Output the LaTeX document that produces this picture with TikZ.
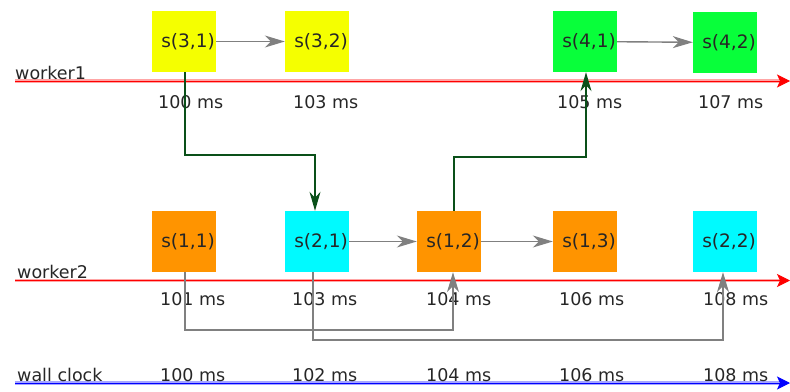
\documentclass[tikz,border=0pt]{standalone}
\usepackage{fontspec}
\setmainfont{DejaVu Sans}
\usetikzlibrary{arrows.meta}
\definecolor{cyel}{RGB}{245,255,0}
\definecolor{cgrn}{RGB}{8,255,58}
\definecolor{corg}{RGB}{255,148,0}
\definecolor{ccya}{RGB}{0,250,255}
\definecolor{dgrn}{RGB}{10,80,25}
\definecolor{txt}{RGB}{38,38,38}
\tikzset{
  task/.style={rectangle, minimum width=64pt, minimum height=61pt, inner sep=0pt, text=txt, font=\fontsize{18.5}{20}\selectfont},
  lbl/.style={anchor=base west, inner sep=0pt, text=txt, font=\fontsize{17.5}{20}\selectfont},
  dep/.style={draw=gray, line width=1.4pt, -{Stealth[length=20pt,width=12pt,inset=6pt]}},
  xdep/.style={draw=dgrn, line width=1.1pt, -{Stealth[length=19pt,width=11pt,inset=6pt]}},
  halo/.style={line width=3.5pt, draw=#1!35},
  axis/.style={line width=1pt, draw=#1, -{Stealth[length=13pt,width=13pt,inset=3pt]}},
}
\newcommand{\tasktext}[1]{\hspace*{8pt}\raisebox{-1.5pt}{#1}}
\begin{document}
\begin{tikzpicture}[x=1pt,y=-1pt]
\useasboundingbox (0,0) rectangle (790,391);
% axes
\coordinate (w1s) at (15,81); \coordinate (w1e) at (790,81);
\coordinate (w2s) at (15,280.5); \coordinate (w2e) at (790,280.5);
\coordinate (wcs) at (15,383); \coordinate (wce) at (790,383);
\draw[halo=red] (w1s) -- ([xshift=-8pt]w1e);
\draw[axis=red] (w1s) -- (w1e);
\draw[halo=red] (w2s) -- ([xshift=-8pt]w2e);
\draw[axis=red] (w2s) -- (w2e);
\draw[halo=blue] (wcs) -- ([xshift=-8pt]wce);
\draw[axis=blue] (wcs) -- (wce);
\node[lbl] (lw1) at (15,79) {worker1};
\node[lbl] (lw2) at (17,278.5) {worker2};
\node[lbl] (lwc) at (17,381) {wall clock};
% tasks
\node[task, fill=cyel] (s31) at (184,41.5) {\tasktext{s(3,1)}};
\node[task, fill=cyel] (s32) at (317,41.5) {\tasktext{s(3,2)}};
\node[task, fill=cgrn] (s41) at (585,41.5) {\tasktext{s(4,1)}};
\node[task, fill=cgrn] (s42) at (725,42.5) {\tasktext{s(4,2)}};
\node[task, fill=corg] (s11) at (184,241.5) {\tasktext{s(1,1)}};
\node[task, fill=ccya] (s21) at (317,241.5) {\tasktext{s(2,1)}};
\node[task, fill=corg] (s12) at (449,241.5) {\tasktext{s(1,2)}};
\node[task, fill=corg] (s13) at (585,241.5) {\tasktext{s(1,3)}};
\node[task, fill=ccya] (s22) at (725,241.5) {\tasktext{s(2,2)}};
% times
\node[lbl] (t1a) at (158,108.5) {100 ms};
\node[lbl] (t1b) at (293,108.5) {103 ms};
\node[lbl] (t1c) at (557,108.5) {105 ms};
\node[lbl] (t1d) at (698,108.5) {107 ms};
\node[lbl] (t2a) at (160,305.5) {101 ms};
\node[lbl] (t2b) at (292,305.5) {103 ms};
\node[lbl] (t2c) at (426,305.5) {104 ms};
\node[lbl] (t2d) at (559,305.5) {106 ms};
\node[lbl] (t2e) at (703,305.5) {108 ms};
\node[lbl] (tca) at (160,381) {100 ms};
\node[lbl] (tcb) at (292,381) {102 ms};
\node[lbl] (tcc) at (426,381) {104 ms};
\node[lbl] (tcd) at (559,381) {106 ms};
\node[lbl] (tce) at (703,381) {108 ms};
% connectors
\draw[dep] (s31) -- (s32);
\draw[dep] (s41) -- (s42);
\draw[dep] (s21) -- (s12);
\draw[dep] (s12) -- (s13);
\coordinate (g1) at (0,155);
\coordinate (g2) at (0,157);
\coordinate (b1) at (0,330);
\coordinate (b2) at (0,340);
\draw[xdep] ([xshift=1pt]s31.south) -- ([xshift=1pt]s31.south |- g1) -| ([xshift=-2pt]s21.north);
\draw[xdep] ([xshift=5pt]s12.north) -- ([xshift=5pt]s12.north |- g2) -| ([xshift=1pt]s41.south);
\draw[dep] ([xshift=1pt]s11.south) -- ([xshift=1pt]s11.south |- b1) -| ([xshift=4pt]s12.south);
\draw[dep] ([xshift=-4pt]s21.south) -- ([xshift=-4pt]s21.south |- b2) -| ([xshift=-2pt]s22.south);
\end{tikzpicture}
\end{document}
